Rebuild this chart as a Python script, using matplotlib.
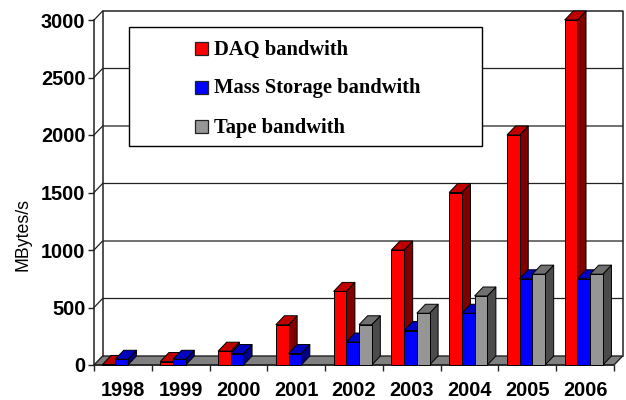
import numpy as np
import matplotlib
matplotlib.use('Agg')
import matplotlib.pyplot as plt
from matplotlib.patches import Rectangle

years = ['1998', '1999', '2000', '2001', '2002', '2003', '2004', '2005', '2006']
daq = [5, 30, 120, 350, 640, 1000, 1500, 2000, 3000]
storage = [50, 50, 100, 100, 200, 300, 450, 750, 750]
tape = [0, 0, 0, 0, 350, 450, 600, 790, 790]
y_ticks = [0, 500, 1000, 1500, 2000, 2500, 3000]
legend_names = ['DAQ bandwith', 'Mass Storage bandwith', 'Tape bandwith']

W, H = 626, 400
fig = plt.figure(figsize=(W / 100, H / 100), dpi=100)
ax = fig.add_axes([94 / W, 1 - 365 / H, 520 / W, 345 / H])
ax.set_xlim(0, len(years))
ax.set_ylim(0, 3000)
ax.patch.set_visible(False)

# depth of the fake 3d, in data units
dx = 8.6 / (520 / len(years))
dy = 9 / (345 / 3000)
bar_w = 0.22
n = len(years)

# floor and walls
ax.fill([0, n, n + dx, dx], [0, 0, dy, dy], facecolor='#808080', edgecolor='#222222',
        lw=1, clip_on=False, zorder=1)
ax.plot([dx, dx, n + dx, n + dx], [dy, 3000 + dy, 3000 + dy, dy], color='#222222',
        lw=1.1, clip_on=False, zorder=1)
for t in y_ticks[1:-1]:
    ax.plot([0, dx, n + dx], [t, t + dy, t + dy], color='#222222', lw=0.9,
            clip_on=False, zorder=1)
ax.plot([0, dx], [3000, 3000 + dy], color='#222222', lw=0.9, clip_on=False, zorder=1)


def draw_bar(x, v, front, top, side):
    ax.fill([x + bar_w, x + bar_w + dx, x + bar_w + dx, x + bar_w],
            [0, dy, v + dy, v], facecolor=side, edgecolor='black', lw=0.7,
            clip_on=False, zorder=3, joinstyle='round')
    ax.fill([x, x + bar_w, x + bar_w + dx, x + dx], [v, v, v + dy, v + dy],
            facecolor=top, edgecolor='black', lw=0.7, clip_on=False, zorder=3)
    ax.bar(x, v, bar_w, align='edge', color=front, edgecolor='black', lw=0.7,
           clip_on=False, zorder=3)


series = [(daq, '#ff0000', '#c00000', '#800000'),
          (storage, '#0000ff', '#0000c0', '#000080'),
          (tape, '#969696', '#707070', '#4b4b4b')]
start = 0.147
for i in range(n):
    for j, (vals, c1, c2, c3) in enumerate(series):
        if vals[i] > 0:
            draw_bar(i + start + j * bar_w, vals[i], c1, c2, c3)

for s in ['top', 'right']:
    ax.spines[s].set_visible(False)
for s in ['left', 'bottom']:
    ax.spines[s].set_color('#222222')
    ax.spines[s].set_linewidth(1.1)
    ax.spines[s].set_zorder(2)

ax.set_yticks(y_ticks)
ax.set_yticklabels([str(t) for t in y_ticks], family='Liberation Sans', weight='bold', fontsize=14.4)
ax.set_xticks(np.arange(n + 1))
ax.set_xticklabels([])
ax.set_xticks(np.arange(n) + 0.5, minor=True)
ax.set_xticklabels(years, minor=True, family='Liberation Sans', weight='bold', fontsize=14.4)
ax.tick_params(axis='x', which='minor', length=0, pad=11.5)
ax.tick_params(axis='both', which='major', length=4.2, width=1, color='#222222')
ax.tick_params(axis='y', pad=2)
ax.set_ylabel('MBytes/s', family='Liberation Sans', fontsize=12.8)
ax.yaxis.set_label_coords(-0.121, 0.377)


# legend box, placed in pixels
def px_x(x):
    return x / W


def px_y(y):
    return 1 - y / H


fig.add_artist(Rectangle((px_x(129.5), px_y(146.5)), 353 / W, 118.5 / H, transform=fig.transFigure,
                         facecolor='#808080', edgecolor='none', zorder=5))
fig.add_artist(Rectangle((px_x(128.5), px_y(145.5)), 353 / W, 118.5 / H, transform=fig.transFigure,
                         facecolor='white', edgecolor='black', lw=1, zorder=6))
legend_y = [48.5, 87, 126]
legend_c = ['#ff0000', '#0000ff', '#969696']
for name, yy, c in zip(legend_names, legend_y, legend_c):
    fig.add_artist(Rectangle((px_x(194.5), px_y(yy + 6.5)), 13 / W, 13 / H, transform=fig.transFigure,
                             facecolor=c, edgecolor='#222222', lw=0.9, zorder=7))
    fig.text(px_x(214), px_y(yy + 1.5), name, family='Liberation Serif', weight='bold', fontsize=14.8,
             va='center', ha='left', zorder=7)

fig.savefig('out.png', dpi=100)
